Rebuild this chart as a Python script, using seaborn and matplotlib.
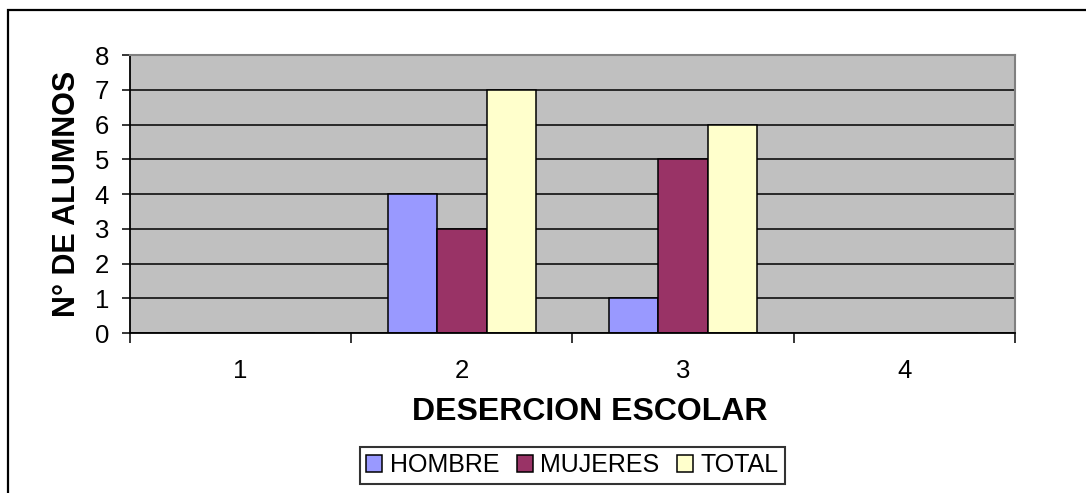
import pandas as pd
import numpy as np
import matplotlib
matplotlib.use('Agg')
import matplotlib.pyplot as plt
import seaborn as sns
from matplotlib.patches import Rectangle

# Data
categorias = ['1', '2', '3', '4']
hombre = [0, 4, 1, 0]
mujeres = [0, 3, 5, 0]
total = [0, 7, 6, 0]
series = ['HOMBRE', 'MUJERES', 'TOTAL']
colores = ['#9999FF', '#993366', '#FFFFCC']

df = pd.DataFrame({
    'categoria': categorias * 3,
    'serie': [s for s in series for _ in categorias],
    'valor': hombre + mujeres + total,
})

sns.set_style('white')
plt.rcParams['font.family'] = ['Liberation Sans', 'DejaVu Sans']
plt.rcParams['text.color'] = 'black'
plt.rcParams['axes.labelcolor'] = 'black'
plt.rcParams['xtick.color'] = 'black'
plt.rcParams['ytick.color'] = 'black'

fig = plt.figure(figsize=(10.86, 4.93), dpi=100)
ax = fig.add_axes([0.1197, 0.3245, 0.8149, 0.5639])
ax.set_facecolor('#C0C0C0')

sns.barplot(data=df, x='categoria', y='valor', hue='serie', palette=colores, saturation=1,
            width=0.67, gap=0, edgecolor='black', linewidth=1.1, ax=ax)
ax.get_legend().remove()

# Y axis
ax.set_ylim(0, 8)
ax.set_yticks(range(0, 9))
ax.set_yticklabels([str(i) for i in range(0, 9)], fontsize=18.5)
ax.yaxis.grid(True, color='black', linewidth=1.1)
ax.set_axisbelow(True)
ax.tick_params(axis='y', direction='out', length=6, width=1.1, color='black', pad=9, left=True)

# X axis: labels at centers, ticks between categories
ax.set_xlim(-0.5, 3.5)
ax.set_xticks(np.arange(-0.5, 4.0, 1.0))
ax.set_xticklabels([])
ax.set_xticks(range(4), minor=True)
ax.set_xticklabels(categorias, minor=True, fontsize=18.5)
ax.tick_params(axis='x', which='major', direction='out', length=7, width=1.1, color='black', bottom=True)
ax.tick_params(axis='x', which='minor', length=0, pad=19)

ax.set_xlabel('DESERCION ESCOLAR', fontsize=23, fontweight='bold', labelpad=10)
ax.xaxis.label.set_x(0.52)
ax.set_ylabel('N° DE ALUMNOS', fontsize=22, fontweight='bold', labelpad=9)

for s in ['left', 'bottom']:
    ax.spines[s].set_color('black')
    ax.spines[s].set_linewidth(1.3)
for s in ['top', 'right']:
    ax.spines[s].set_color('#808080')
    ax.spines[s].set_linewidth(1.5)

# Legend
handles = [Rectangle((0, 0), 1, 1, facecolor=c, edgecolor='black', linewidth=1.1) for c in colores]
leg = fig.legend(handles, series, loc='center', bbox_to_anchor=(0.527, 0.0558), ncol=3,
                 fontsize=18, frameon=True, fancybox=False, handlelength=0.65, handleheight=0.65,
                 handletextpad=0.3, columnspacing=0.7, borderpad=0.25)
leg.get_frame().set_edgecolor('black')
leg.get_frame().set_linewidth(1.5)

# Outer chart border
fig.patches.append(Rectangle((8 / 1086, -0.1), 1.2, (493 - 10) / 493 + 0.1, transform=fig.transFigure,
                             fill=False, edgecolor='black', linewidth=1.6))

plt.savefig('out.png', dpi=100)
